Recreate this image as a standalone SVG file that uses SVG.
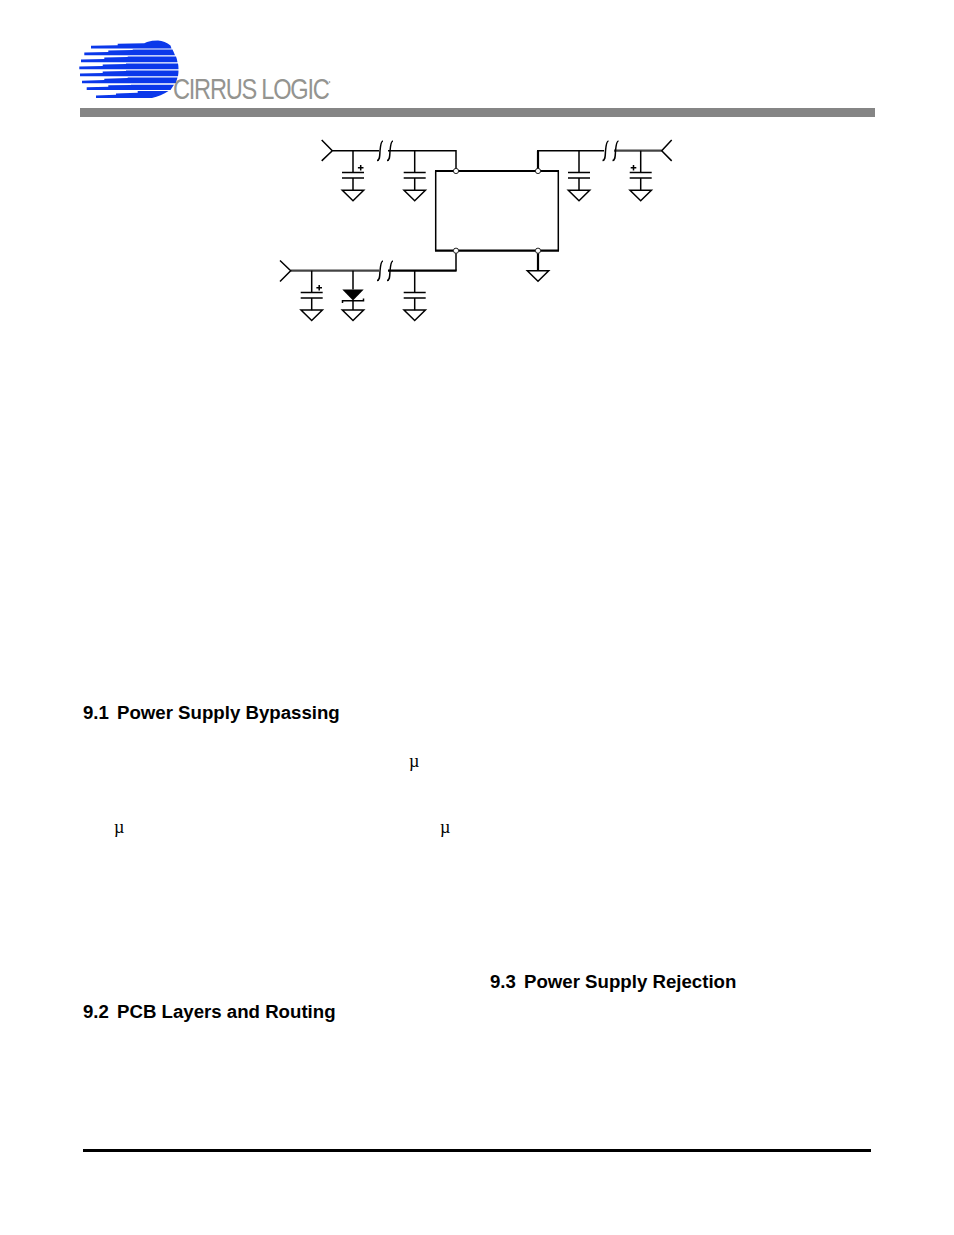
<svg xmlns="http://www.w3.org/2000/svg" width="954" height="1235" viewBox="0 0 954 1235">
<style>
.w{fill:none;stroke:#000;stroke-width:1.5}
.t{fill:none;stroke:#000;stroke-width:2.2}
.g{fill:none;stroke:#444;stroke-width:2.2}
.j{fill:#fff;stroke:#222;stroke-width:1}
.h{font-family:"Liberation Sans",Arial,sans-serif;font-weight:700;font-size:18.65px;fill:#000}
.m{font-family:"Liberation Serif","Times New Roman",serif;font-size:18px;fill:#000}
.p{fill:#0b38ea}
</style>
<defs>
<g id="cap"><path class="w" d="M0 0V21.8M-11 21.8H11M-11 27.3H11M0 27.3V39.5"/></g>
<path id="gnd" class="w" d="M-10.7 0H10.7L0 10.5Z"/>
<path id="plus" class="w" d="M-2.8 0H2.8M0-2.8V2.8"/>
<path id="brk" class="w" d="M0 19.5C3 19.5 2.7 15 3 10C3.5 4 4 0 6 0"/>
</defs>
<g id="logo">
<g id="logo-mark">
<path class="p" d="M91 48.4V45.8L117.7 45.2V43.8L144.3 43.2L147 42Q152 40.6 158 40.6Q165 41 170.5 45.5L171.5 48.4Z"/>
<path class="p" d="M84.3 55.2V52.6L108.3 52V50.6L132.7 50V49.5H172.5Q173.7 52 175 55.2Z"/>
<path class="p" d="M81 62.2V59.6L104.3 59V57.6L127.7 57V56.5H176Q177 59 177.5 62.2Z"/>
<path class="p" d="M79.3 69.2V66.6L102.7 66V64.6L126 64V63.5H178Q178.5 66 178.5 69.2Z"/>
<path class="p" d="M80 76.2V73.6L102.7 73V71.6L126 71V70.5H178.5Q178.5 73 178 76.2Z"/>
<path class="p" d="M82 83.3V80.7L104.3 80.1V78.7L127.7 78.1V77.5H177.5Q176.8 80 175.7 83.3Z"/>
<path class="p" d="M86.7 89.9V87.3L108.3 86.7V85.3L131 84.9V84.7H174Q172.5 87 170.5 89.9Z"/>
<path class="p" d="M96 98V95.4L116 94.8V93.4L137.7 92.8V91H168.5Q161 96 152 98Z"/>
</g>
<text id="logo-text" transform="translate(173 99.2) scale(.8 1)" font-family="'Liberation Sans',Arial,sans-serif" font-size="29.5" letter-spacing="-1.55" fill="#949490">CIRRUS LOGIC</text>
<circle cx="329.5" cy="82" r="0.9" fill="#aaa"/>
</g>
<rect id="header-bar" x="80" y="108" width="795" height="9" fill="#858585"/>
<g id="connectors">
<path class="w" d="M321.7 140L332.3 150.7L321.7 160.9M332 150.7H379M388 150.7H456V171"/>
<path class="w" d="M456 250.7V270.7"/>
<path class="t" d="M388 270.7H456.6"/>
<path class="g" d="M290.7 270.7H379"/>
<path class="w" d="M280 260.5L290.7 270.7L280 281.5"/>
<path class="t" d="M538 171V150.7"/>
<path class="w" d="M537 150.7H604"/>
<path class="g" d="M614 150.7H661.7"/>
<path class="w" d="M671.7 140L661.7 150.7L671.7 160.9"/>
<path class="t" d="M538 250.7V271"/>
<use href="#brk" x="377" y="141"/><use href="#brk" x="387" y="141"/>
<use href="#brk" x="377" y="261"/><use href="#brk" x="387" y="261"/>
<use href="#brk" x="602.5" y="141"/><use href="#brk" x="612.5" y="141"/>
</g>
<g id="chip">
<path class="w" d="M435.7 171V250.7M558.3 171V250.7"/>
<path class="t" d="M435 171H559M435 250.7H559"/>
<circle class="j" cx="456" cy="171" r="2.6"/>
<circle class="j" cx="456" cy="250.7" r="2.6"/>
<circle class="j" cx="538" cy="171" r="2.6"/>
<circle class="j" cx="538" cy="250.7" r="2.6"/>
</g>
<g id="c1"><use href="#cap" x="353" y="150.7"/><use href="#gnd" x="353" y="190.3"/><use href="#plus" x="360.7" y="167.8"/></g>
<g id="c2"><use href="#cap" x="414.7" y="150.7"/><use href="#gnd" x="414.7" y="190.3"/></g>
<g id="c3"><use href="#cap" x="579" y="150.7"/><use href="#gnd" x="579" y="190.3"/></g>
<g id="c4"><use href="#cap" x="640.7" y="150.7"/><use href="#gnd" x="640.7" y="190.3"/><use href="#plus" x="633.5" y="167.8"/></g>
<g id="c5"><use href="#cap" x="311.7" y="270.7"/><use href="#gnd" x="311.7" y="310"/><use href="#plus" x="319.2" y="287.8"/></g>
<g id="c6"><use href="#cap" x="414.7" y="270.7"/><use href="#gnd" x="414.7" y="310"/></g>
<g id="zener">
<path class="w" d="M353 270.7V289.5M353 300V310"/>
<path d="M342.3 289.5H363.7L353 300.5Z" fill="#000"/>
<path class="w" d="M342.5 303V300.7H363.5V298.5"/>
<use href="#gnd" x="353" y="310"/>
</g>
<g id="gnd-main"><use href="#gnd" x="538" y="270.7"/></g>
<text class="h" x="83" y="719">9.1</text><text class="h" x="117" y="719">Power Supply Bypassing</text>
<text class="h" x="83" y="1017.7">9.2</text><text class="h" x="117" y="1017.7">PCB Layers and Routing</text>
<text class="h" x="490" y="988">9.3</text><text class="h" x="524" y="988">Power Supply Rejection</text>
<text class="m" x="409" y="767">µ</text>
<text class="m" x="114" y="833">µ</text>
<text class="m" x="440" y="833">µ</text>
<rect id="footer-rule" x="83" y="1149" width="788" height="3" fill="#000"/>
</svg>
